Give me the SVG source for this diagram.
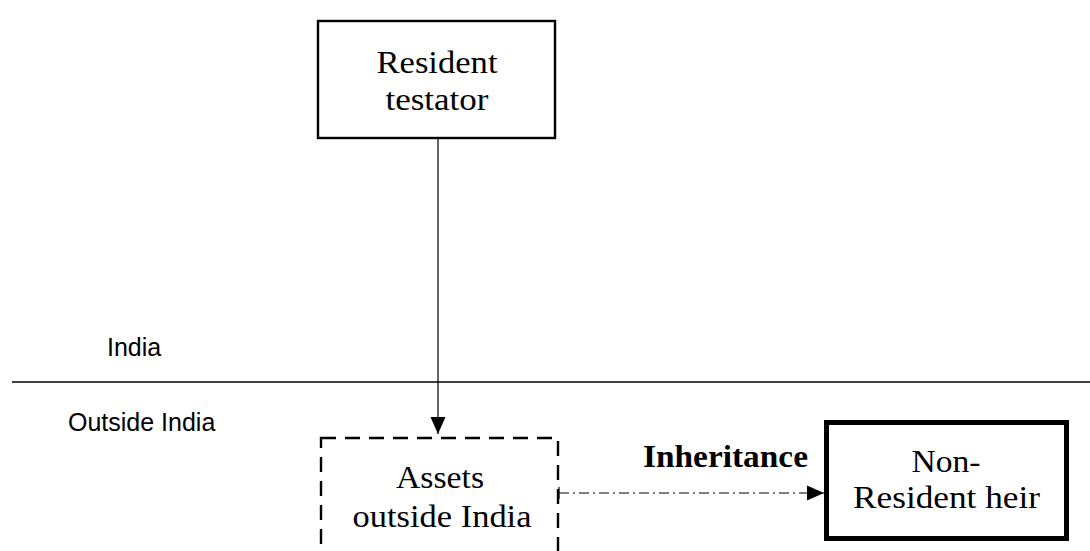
<svg xmlns="http://www.w3.org/2000/svg" width="1090" height="551" viewBox="0 0 1090 551">
<style>
.serif{font-family:"Liberation Serif","Times New Roman",serif;font-size:31px;fill:#000;text-anchor:middle}
.sans{font-family:"Liberation Sans",Arial,sans-serif;font-size:25px;fill:#000}
.box{fill:#fff;stroke:#000}
</style>
<defs>
<marker id="arr" markerUnits="userSpaceOnUse" markerWidth="18" markerHeight="18" viewBox="0 0 18 18" refX="17" refY="9" orient="auto">
<path d="M0,1.5 L17,9 L0,16.5 Z" fill="#000"/>
</marker>
</defs>
<rect width="1090" height="551" fill="#fff"/>
<g id="region-line">
<line x1="12" y1="382" x2="1090" y2="382" stroke="#000" stroke-width="1.4"/>
<text class="sans" x="107" y="356">India</text>
<text class="sans" x="68" y="431">Outside India</text>
</g>
<g id="resident-testator">
<rect class="box" x="318" y="21" width="237" height="117" stroke-width="2.4"/>
<text class="serif" x="437" y="73" textLength="121" lengthAdjust="spacingAndGlyphs">Resident</text>
<text class="serif" x="437" y="110" textLength="103" lengthAdjust="spacingAndGlyphs">testator</text>
</g>
<g id="assets">
<rect class="box" x="321" y="438" width="237" height="140" stroke-width="2.4" stroke-dasharray="15 9"/>
<text class="serif" x="440" y="488" textLength="88" lengthAdjust="spacingAndGlyphs">Assets</text>
<text class="serif" x="442" y="527" textLength="179" lengthAdjust="spacingAndGlyphs">outside India</text>
</g>
<g id="non-resident-heir">
<rect class="box" x="826.5" y="422.5" width="240" height="116" stroke-width="5"/>
<text class="serif" x="946" y="472" textLength="69" lengthAdjust="spacingAndGlyphs">Non-</text>
<text class="serif" x="946.5" y="508" textLength="187" lengthAdjust="spacingAndGlyphs">Resident heir</text>
</g>
<g id="connectors" fill="none" stroke="#000">
<line x1="438" y1="139" x2="438" y2="434" stroke-width="1.2" marker-end="url(#arr)"/>
<line x1="559" y1="493" x2="824" y2="493" stroke-width="1.2" stroke-dasharray="10 4 2 4" marker-end="url(#arr)"/>
<line x1="559" y1="487" x2="559" y2="499" stroke-width="1.2"/>
<text x="725.5" y="467" font-family="'Liberation Serif','Times New Roman',serif" font-size="31" font-weight="bold" text-anchor="middle" fill="#000" stroke="none" textLength="165" lengthAdjust="spacingAndGlyphs">Inheritance</text>
</g>
</svg>
